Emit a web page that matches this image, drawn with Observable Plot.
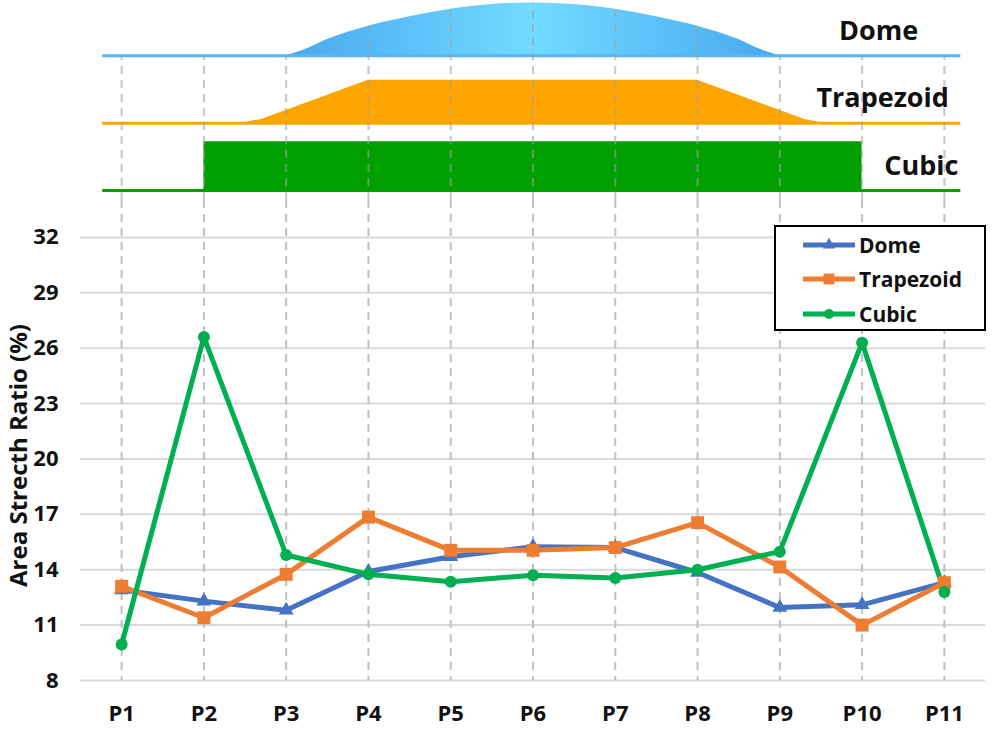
<!DOCTYPE html>
<html><head><meta charset="utf-8">
<script src="https://cdn.jsdelivr.net/npm/d3@7"></script>
<script src="https://cdn.jsdelivr.net/npm/@observablehq/plot@0.6"></script>
<style>
html,body{margin:0;padding:0;background:#fff;overflow:hidden;}
#wrap{position:relative;width:993px;height:730px;font-family:'Open Sans',sans-serif;}
#wrap svg{display:block;}
#legend{position:absolute;left:774px;top:225px;width:208px;height:102px;border:2px solid #000;background:#fff;box-sizing:content-box;}
.lrow{position:absolute;left:27px;height:30px;display:flex;align-items:center;font-weight:700;font-size:21px;color:#111;}
.lrow svg{margin-right:4px;}
</style></head><body><div id="wrap"></div>
<script>
// ---- data ----
const categories = ["P1","P2","P3","P4","P5","P6","P7","P8","P9","P10","P11"];
const domeValues      = [12.9, 12.3, 11.8, 13.9, 14.7, 15.25, 15.2, 13.85, 11.95, 12.1, 13.3];
const trapezoidValues = [13.1, 11.4, 13.75, 16.85, 15.05, 15.05, 15.2, 16.55, 14.15, 11.0, 13.3];
const cubicValues     = [9.95, 26.6, 14.8, 13.75, 13.35, 13.7, 13.55, 14.0, 14.98, 26.3, 12.8];
const yTicks = [8, 11, 14, 17, 20, 23, 26, 29, 32];
const seriesNames = ["Dome", "Trapezoid", "Cubic"];
const seriesColors = ["#4472c4", "#ed7d31", "#00b050"];
const seriesSymbols = ["triangle", "square", "circle"];
const seriesDotR = [5.5, 7.3, 6];
const yLabel = "Area Strecth Ratio (%)";

// ---- punch-profile illustration (position along P axis, relative height) ----
const domeProfile = [[3,0],[3.2,0.1],[3.5,0.31],[4,0.56],[4.5,0.74],[5,0.88],[5.5,0.97],[6,1],[6.5,0.97],[7,0.88],[7.5,0.74],[8,0.56],[8.5,0.31],[8.8,0.1],[9,0]];
const trapezoidProfile = [[2.45,0],[2.7,0.07],[4,0.81],[8,0.81],[9.3,0.07],[9.55,0]];
const cubicProfile = [[2,0.92],[10,0.92]];
const shapeNames = ["Dome", "Trapezoid", "Cubic"];
const shapeColors = ["#5ab4f0", "#ffa500", "#00a000"];
const shapeLabelPos = [10.2, 10.25, 10.72];
const shapeSpan = [0.77, 11.2];

(function () {
const idx = categories.map((c, i) => i + 1);
const values = [domeValues, trapezoidValues, cubicValues];
const table = seriesNames.flatMap((s, k) => categories.map((c, i) => ({series: s, k, i: i + 1, v: values[k][i]})));

const wrap = document.getElementById("wrap");
const W = 993, ML = 80, MR = 8;
const xDomain = [0.5, 11.5];
const font = {fontFamily: "'Open Sans', sans-serif", fontWeight: "bold", color: "#111", background: "transparent"};

// ---- top illustration ----
const rowGap = 1.27;
const base = shapeNames.map((s, r) => (2 - r) * rowGap);
const domeAt = i => { const p = domeProfile.find(d => d[0] === i); return p ? p[1] : 0; };

const topPlot = Plot.plot({
  width: W, height: 200, marginLeft: ML, marginRight: MR, marginTop: 0, marginBottom: 0,
  x: {domain: xDomain, axis: null},
  y: {domain: [-0.19, 3.585], axis: null},
  style: {...font, fontSize: "27px"},
  marks: [
    Plot.areaY(domeProfile, {x: d => d[0], y1: base[0], y2: d => base[0] + d[1], curve: "monotone-x", fill: "url(#domeGrad)"}),
    Plot.areaY(trapezoidProfile, {x: d => d[0], y1: base[1], y2: d => base[1] + d[1], fill: shapeColors[1]}),
    Plot.areaY(cubicProfile, {x: d => d[0], y1: base[2], y2: d => base[2] + d[1], fill: shapeColors[2]}),
    Plot.ruleY(shapeNames, {y: (d, r) => base[r], x1: shapeSpan[0], x2: shapeSpan[1], stroke: (d, r) => shapeColors[r], strokeWidth: 3}),
    Plot.ruleX(idx, {x: d => d, y1: -0.19, y2: d => base[0] + domeAt(d), stroke: "#a0a0a0", strokeOpacity: 0.6, strokeWidth: 2, strokeDasharray: "8,6"}),
    Plot.text(shapeNames, {x: (d, r) => shapeLabelPos[r], y: (d, r) => base[r] + 0.46, text: d => d, fill: "#111", fontSize: 27, fontWeight: "bold"})
  ]
});
const defs = d3.select(topPlot).insert("defs", ":first-child");
const g = defs.append("linearGradient").attr("id", "domeGrad").attr("x1", "0").attr("x2", "1").attr("y1", "0").attr("y2", "0");
g.append("stop").attr("offset", "0%").attr("stop-color", "#48a8ee");
g.append("stop").attr("offset", "30%").attr("stop-color", "#60c6fa");
g.append("stop").attr("offset", "50%").attr("stop-color", "#72dbff");
g.append("stop").attr("offset", "70%").attr("stop-color", "#60c6fa");
g.append("stop").attr("offset", "100%").attr("stop-color", "#48a8ee");
wrap.appendChild(topPlot);

// ---- main chart ----
const mainPlot = Plot.plot({
  width: W, height: 530, marginLeft: ML, marginRight: MR, marginTop: 0, marginBottom: 50,
  x: {domain: xDomain, ticks: idx, tickFormat: i => categories[i - 1], tickSize: 0, tickPadding: 25, label: null},
  y: {domain: [8, 34], ticks: yTicks, tickSize: 0, tickPadding: 22, label: null},
  style: {...font, fontSize: "22px"},
  marks: [
    Plot.ruleY(yTicks, {stroke: "#d9d9d9", strokeWidth: 2}),
    Plot.ruleX(idx, {stroke: "#c0c0c0", strokeWidth: 2, strokeDasharray: "8,6"}),
    ...seriesNames.map((s, k) => Plot.line(table.filter(d => d.k === k), {x: "i", y: "v", stroke: seriesColors[k], strokeWidth: 5, strokeLinejoin: "round"})),
    ...seriesNames.map((s, k) => Plot.dot(table.filter(d => d.k === k), {x: "i", y: "v", symbol: seriesSymbols[k], r: seriesDotR[k], fill: seriesColors[k], stroke: "none"})),
    Plot.text([yLabel], {frameAnchor: "left", textAnchor: "middle", rotate: -90, dx: -61, dy: 15, text: d => d, fill: "#111", fontSize: 24, fontWeight: "bold"})
  ]
});
wrap.appendChild(mainPlot);

// ---- legend ----
const legend = document.createElement("div");
legend.id = "legend";
const rowTops = [3, 37, 72];
seriesNames.forEach((s, k) => {
  const row = document.createElement("div");
  row.className = "lrow";
  row.style.top = rowTops[k] + "px";
  const sv = d3.create("svg").attr("width", 52).attr("height", 20);
  sv.append("line").attr("x1", 1).attr("x2", 51).attr("y1", 10).attr("y2", 10).attr("stroke", seriesColors[k]).attr("stroke-width", 5).attr("stroke-linecap", "round");
  sv.append("path").attr("transform", "translate(26,10)").attr("fill", seriesColors[k])
    .attr("d", d3.symbol(k === 0 ? d3.symbolTriangle : k === 1 ? d3.symbolSquare : d3.symbolCircle, Math.PI * seriesDotR[k] * seriesDotR[k] * 0.7)());
  row.appendChild(sv.node());
  const t = document.createElement("span");
  t.textContent = s;
  row.appendChild(t);
  legend.appendChild(row);
});
wrap.appendChild(legend);
})();
</script></body></html>
